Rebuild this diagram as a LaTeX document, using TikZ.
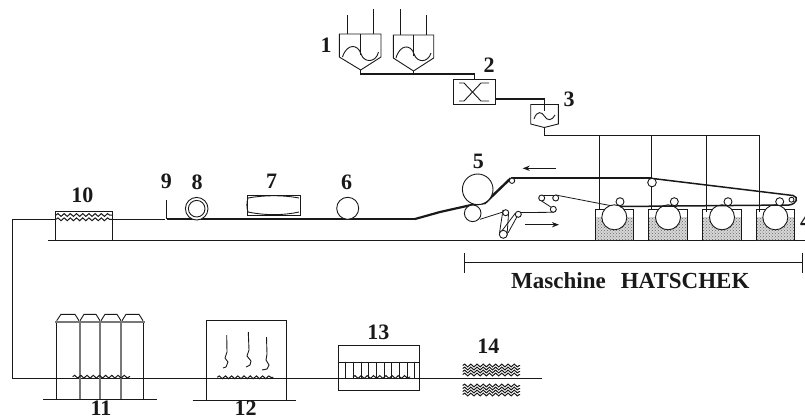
\documentclass[tikz,border=0pt]{standalone}
\usepackage{fontspec}
\setmainfont{Liberation Serif}
\usetikzlibrary{arrows.meta,patterns,decorations.pathmorphing}
\definecolor{Ink}{RGB}{25,25,25}
\definecolor{GrayBar}{RGB}{120,120,120}
\definecolor{BathGray}{RGB}{215,215,215}
\tikzset{
  line/.style={draw=Ink,line width=0.9pt},
  pipe/.style={draw=Ink,line width=1.1pt},
  felt/.style={draw=Ink,line width=1.9pt},
  thinfelt/.style={draw=Ink,line width=0.8pt},
  ground/.style={draw=Ink,line width=1.5pt},
  roll/.style={draw=Ink,line width=0.9pt,fill=white},
  flowarrow/.style={->,>=Stealth,draw=Ink,line width=0.9pt},
  stipple/.style={pattern=crosshatch dots,pattern color=black!60,draw=none},
  wave/.style={draw=Ink,line width=1pt,decorate,decoration={snake,segment length=6.2pt,amplitude=1.4pt}},
  numlabel/.style={font=\fontsize{22}{24}\selectfont\bfseries,text=Ink,inner sep=0pt},
  titlelabel/.style={font=\fontsize{23}{25}\selectfont\bfseries,text=Ink,inner sep=0pt}
}
\begin{document}
\begin{tikzpicture}[x=1pt,y=-1pt]
\useasboundingbox (0,0) rectangle (805,418);
% ground lines
\draw[ground] (48,240.3)--(805,240.3);
\draw[pipe] (12.7,219.3)--(55.7,219.3);
\draw[pipe] (112.3,219.3)--(165,219.3);
\draw[pipe] (12.7,219.3)--(12.7,378.5)--(542.3,378.5);
% hoppers
\draw[line] (347.7,15)--(347.7,34);\draw[line] (373,9)--(373,34);
\draw[line] (339.3,34)--(381,34)--(381,57)--(360.7,70)--(339.3,57)--cycle;
\draw[line] (360.7,34)--(360.7,55);
\draw[line] (342.5,57) .. controls (347,43) and (358,44) .. (361,54) .. controls (364,63) and (376,63) .. (378.5,52);
\draw[line] (400.7,9)--(400.7,35);\draw[line] (426.7,15)--(426.7,35);
\draw[line] (393.3,35)--(433.7,35)--(433.7,58)--(413.5,71)--(393.3,58)--cycle;
\draw[line] (413.4,35)--(413.4,56);
\draw[line] (396,58) .. controls (400,44) and (411,44) .. (414,54) .. controls (417,63) and (428,63) .. (431,53);
\draw[pipe] (360.7,70)--(360.7,74)--(474.3,74)--(474.3,79.3);
\draw[pipe] (413.5,71)--(413.5,74);
% mixer
\draw[line] (453.3,79.3) rectangle (495.7,104.3);
\draw[line] (459,101) -- (464,101) -- (481,83) -- (489,83);
\draw[line] (459,83) -- (464,83) -- (481,101) -- (489,101);
\draw[pipe] (495.7,99)--(544.3,99)--(544.3,111);
% small hopper
\draw[line] (530.7,104.5)--(558.3,104.5)--(558.3,124)--(544.3,127.5)--(530.7,124)--cycle;
\draw[line] (534,119) .. controls (537,110) and (542,112) .. (544.3,116) .. controls (547,121) and (552,121) .. (555,115);
\draw[line] (544.3,127.5)--(544.3,135)--(759.3,135);
% feed lines
\draw[line] (599,135)--(599,210);
\draw[line] (651.7,135)--(651.7,210);
\draw[line] (706.7,135)--(706.7,212);
\draw[line] (759.3,135)--(759.3,212);
% baths
\fill[BathGray] (595,217) rectangle (633.7,240);
\fill[BathGray] (648.7,217) rectangle (687.7,240);
\fill[BathGray] (702.7,217) rectangle (741,240);
\fill[BathGray] (756,217) rectangle (794.3,240);
\fill[stipple] (595,217) rectangle (633.7,240);
\fill[stipple] (648.7,217) rectangle (687.7,240);
\fill[stipple] (702.7,217) rectangle (741,240);
\fill[stipple] (756,217) rectangle (794.3,240);
\draw[line] (595,240)--(595,209)--(633.7,209)--(633.7,240);
\draw[line] (648.7,240)--(648.7,209)--(687.7,209)--(687.7,240);
\draw[line] (702.7,240)--(702.7,209)--(741,209)--(741,240);
\draw[line] (756,240)--(756,209)--(794.3,209)--(794.3,240);
\node[roll,circle,minimum size=25pt,inner sep=0pt] (drum1) at (614.3,217.3) {};
\node[roll,circle,minimum size=25pt,inner sep=0pt] (drum2) at (668,217.3) {};
\node[roll,circle,minimum size=25pt,inner sep=0pt] (drum3) at (722,217.3) {};
\node[roll,circle,minimum size=25pt,inner sep=0pt] (drum4) at (775.3,217.3) {};
% felt
\draw[felt] (167,219)--(415,219);
\draw[felt,line width=2.2pt] (415,219)--(440,212)--(473,204.6);
\draw[felt,line width=2.4pt] (473,204.6)--(485,203)--(510.7,178.3);
\draw[felt] (510.7,178.3)--(651,178.3);
\draw[felt,line width=1.5pt] (651,178.3)--(793,195.5) .. controls (799,197) and (797,204) .. (789,205)--(620,206.5);
\draw[thinfelt] (480,219.3)--(503,212);
\draw[thinfelt] (503,209.8)--(499.5,233);
\draw[thinfelt] (508.5,214)--(507,235.5);
\draw[thinfelt] (518.3,214.3)--(508,233);
\draw[thinfelt] (515.5,213)--(501,232);
\draw[thinfelt] (521,212.5)--(553.5,212.3);
\draw[thinfelt] (556,210.5)--(541.7,201);
\draw[thinfelt] (541.7,195)--(555.7,195);
\draw[thinfelt] (555.7,195)--(610,205.5);
% rollers
\node[roll,circle,minimum size=30.6pt,inner sep=0pt] (press) at (477.7,189.3) {};
\node[roll,circle,minimum size=16.6pt,inner sep=0pt] (lower) at (472.7,213.3) {};
\node[roll,circle,minimum size=5.4pt,inner sep=0pt] (turn) at (512,180.7) {};
\node[roll,circle,minimum size=6pt,inner sep=0pt] (r1) at (505.7,212.7) {};
\node[roll,circle,minimum size=8pt,inner sep=0pt] (r2) at (503.3,234.3) {};
\node[roll,circle,minimum size=6pt,inner sep=0pt] (r3) at (518.3,214.3) {};
\node[roll,circle,minimum size=6pt,inner sep=0pt] (r4) at (553.3,209.3) {};
\node[roll,circle,minimum size=6pt,inner sep=0pt] (r5) at (541.7,198) {};
\node[roll,circle,minimum size=6pt,inner sep=0pt] (r6) at (555.7,198) {};
\node[roll,circle,minimum size=8pt,inner sep=0pt] (c1) at (620,201.7) {};
\node[roll,circle,minimum size=8pt,inner sep=0pt] (c2) at (674.3,201.7) {};
\node[roll,circle,minimum size=8pt,inner sep=0pt] (c3) at (728,201.7) {};
\node[roll,circle,minimum size=8pt,inner sep=0pt] (c4) at (779.7,201.7) {};
\node[roll,circle,minimum size=5pt,inner sep=0pt] (nose) at (791.5,199.7) {};
\node[roll,circle,minimum size=8.6pt,inner sep=0pt] (top) at (652,182.5) {};
% arrows
\draw[flowarrow] (556,168.3)--(522.7,168.3);
\draw[flowarrow] (525,224.7)--(559,224.7);
% stations
\draw[line] (166.3,200)--(166.3,219);
\node[roll,circle,minimum size=22.6pt,inner sep=0pt] (coil) at (196.7,208.7) {};
\node[roll,circle,minimum size=16.6pt,inner sep=0pt] at (196.7,208.7) {};
\draw[line] (247.3,195) rectangle (300,215);
\draw[line] (248,198) .. controls (265,195) and (283,195) .. (299,198);
\draw[line] (248,212) .. controls (265,215.5) and (283,215.5) .. (299,212);
\draw[line] (248,198) .. controls (246.5,203) and (246.5,207) .. (248,212);
\node[roll,circle,minimum size=22pt,inner sep=0pt] (sizer) at (347.7,208.3) {};
% stack 10
\draw[line] (55.7,240)--(55.7,211)--(112.3,211)--(112.3,240);
\draw[wave] (56,215)--(112,215);
\draw[wave] (56,219.3)--(112,219.3);
% dimension
\draw[line] (464.7,262.7)--(802,262.7);
\draw[line] (464.7,253.3)--(464.7,273.3);
\draw[line] (802,253.3)--(802,273.3);
% station 11
\draw[line] (43.3,399.3)--(157.3,399.3);
\draw[line] (56.7,321.7)--(56.7,399.3);
\draw[draw=GrayBar,line width=2pt] (80,321.7)--(80,399.3);
\draw[draw=GrayBar,line width=1.6pt] (100,321.7)--(100,399.3);
\draw[draw=GrayBar,line width=2pt] (121,321.7)--(121,399.3);
\draw[line] (143.3,321.7)--(143.3,399.3);
\draw[draw=GrayBar,line width=1.8pt] (55,321.7)--(145,321.7);
\draw[line] (56.7,320.7)--(61,314.3)--(75,314.3)--(79,320.7);
\draw[line] (80,320.7)--(84,314.3)--(96,314.3)--(100,320.7);
\draw[line] (101,320.7)--(105,314.3)--(117,314.3)--(121,320.7);
\draw[line] (122,320.7)--(126,314.3)--(139,314.3)--(143,320.7);
\draw[wave] (72.7,376.7)--(130,376.7);
% station 12
\draw[line] (192.7,400)--(296,400);
\draw[line] (206,400)--(206,320.3)--(286,320.3)--(286,400);
\draw[wave] (217.3,377.3)--(273.3,377.3);
\draw[line] (226.7,335) -- (227,352) -- (225,358) -- (228,362) -- (226,367) -- (223,368);
\draw[line] (248.3,332) -- (249,350) -- (247,356) -- (251,361) -- (250,365) -- (246,367);
\draw[line] (266.5,337) -- (267,354) -- (266,360) -- (269,365) -- (267,369) -- (262,370);
% station 13
\draw[line] (338.7,345) rectangle (419,390.3);
\draw[line] (338.7,362.7)--(419,362.7);
\draw[line] (345,362.7)--(345,378);
\draw[line] (353,362.7)--(353,378);
\draw[line] (361,362.7)--(361,378);
\draw[line] (368,362.7)--(368,378);
\draw[line] (376,362.7)--(376,378);
\draw[line] (384,362.7)--(384,378);
\draw[line] (391,362.7)--(391,378);
\draw[line] (399,362.7)--(399,378);
\draw[line] (407,362.7)--(407,378);
\draw[line] (414,362.7)--(414,378);
\draw[wave] (353,377)--(410,377);
% stack 14
\draw[wave] (462.7,365.5)--(520,365.5);
\draw[wave] (462.7,368.5)--(520,368.5);
\draw[wave] (462.7,371.5)--(520,371.5);
\draw[wave] (462.7,374.5)--(520,374.5);
\draw[wave] (462.7,385.5)--(520,385.5);
\draw[wave] (462.7,388.5)--(520,388.5);
\draw[wave] (462.7,391.5)--(520,391.5);
\draw[wave] (462.7,394.5)--(520,394.5);
% labels
\node[numlabel] (l1) at (326,45) {1};
\node[numlabel] (l2) at (489,65.7) {2};
\node[numlabel] (l3) at (569,99) {3};
\node[numlabel,anchor=west] (l4) at (800,221) {4};
\node[numlabel] (l5) at (478.3,161.7) {5};
\node[numlabel] (l6) at (346.7,182) {6};
\node[numlabel] (l7) at (271.7,181.7) {7};
\node[numlabel] (l8) at (197,182) {8};
\node[numlabel] (l9) at (166.3,181.7) {9};
\node[numlabel] (l10) at (82.3,195) {10};
\node[numlabel] (l11) at (101,408) {11};
\node[numlabel] (l12) at (245.7,408) {12};
\node[numlabel] (l13) at (378.3,332.3) {13};
\node[numlabel] (l14) at (488.3,346.7) {14};
\node[titlelabel] (title) at (630.3,280.7) {Maschine\hspace{15pt}HATSCHEK};
\end{tikzpicture}
\end{document}
